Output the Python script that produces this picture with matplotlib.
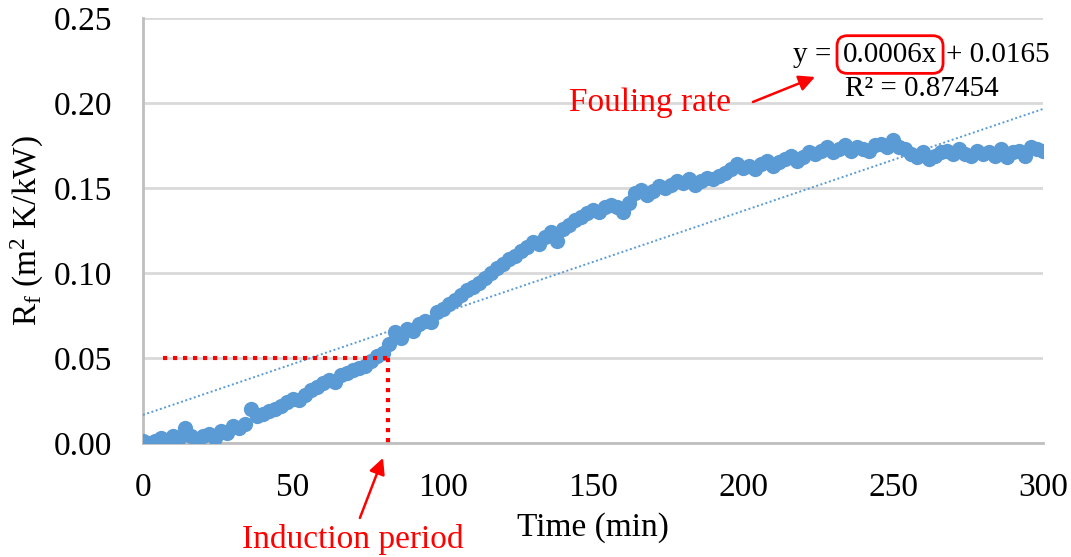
import numpy as np
import matplotlib
matplotlib.use("Agg")
import matplotlib.pyplot as plt

plt.rcParams['font.family'] = ['Liberation Serif', 'DejaVu Serif']
plt.rcParams['mathtext.fontset'] = 'custom'
plt.rcParams['mathtext.rm'] = 'Liberation Serif'
plt.rcParams['mathtext.it'] = 'Liberation Serif:italic'

# fouling resistance, every 2 min
time_min = np.arange(0, 301, 2)
rf = [
    0.001, 0.000, 0.001, 0.003, 0.002, 0.004, 0.003, 0.009, 0.004, 0.002,
    0.004, 0.005, 0.003, 0.007, 0.006, 0.010, 0.009, 0.011, 0.020, 0.016,
    0.017, 0.019, 0.020, 0.022, 0.024, 0.026, 0.025, 0.028, 0.031, 0.033,
    0.035, 0.037, 0.036, 0.040, 0.041, 0.043, 0.044, 0.045, 0.048, 0.051,
    0.053, 0.058, 0.065, 0.062, 0.067, 0.066, 0.070, 0.072, 0.071, 0.077,
    0.079, 0.082, 0.084, 0.087, 0.090, 0.092, 0.094, 0.097, 0.100, 0.103,
    0.105, 0.108, 0.110, 0.113, 0.115, 0.118, 0.117, 0.121, 0.124, 0.119,
    0.126, 0.128, 0.131, 0.133, 0.135, 0.137, 0.136, 0.139, 0.140, 0.139,
    0.136, 0.141, 0.147, 0.149, 0.146, 0.148, 0.151, 0.150, 0.152, 0.154,
    0.153, 0.155, 0.152, 0.154, 0.156, 0.155, 0.157, 0.159, 0.161, 0.164,
    0.162, 0.163, 0.161, 0.164, 0.166, 0.163, 0.165, 0.167, 0.169, 0.166,
    0.168, 0.171, 0.170, 0.172, 0.174, 0.171, 0.173, 0.175, 0.172, 0.174,
    0.173, 0.172, 0.175, 0.176, 0.174, 0.178, 0.174, 0.173, 0.170, 0.168,
    0.171, 0.167, 0.169, 0.171, 0.172, 0.170, 0.173, 0.170, 0.169, 0.172,
    0.170, 0.171, 0.169, 0.173, 0.168, 0.171, 0.172, 0.169, 0.174, 0.173,
    0.172,
]

# linear trendline as reported on the chart
slope = 0.0006
intercept = 0.0165
r2 = 0.87454

# induction period marker
induction_t = 81.7
induction_rf = 0.05

blue = '#5B9BD5'

fig = plt.figure(figsize=(10.71, 5.57), dpi=100)
ax = fig.add_axes([0.1335, 0.2047, 0.8404, 0.763])

ax.plot(time_min, rf, 'o', color=blue, ms=11, mec='none', zorder=3)

xt = np.array([0, 300])
ax.plot(xt, slope * xt + intercept, color=blue, lw=1.4, ls=(0, (1, 1.3)), zorder=4)

# red dotted guide lines
ax.plot([6.7, induction_t], [induction_rf, induction_rf], color='red', lw=3,
        ls=(0, (1, 1.4)), zorder=5, solid_capstyle='butt')
ax.plot([induction_t, induction_t], [induction_rf, 0.0], color='red', lw=3,
        ls=(0, (1, 1.4)), zorder=5, clip_on=False)

ax.set_xlim(0, 300)
ax.set_ylim(0, 0.25)
ax.set_xticks([0, 50, 100, 150, 200, 250, 300])
ax.set_yticks([0, 0.05, 0.10, 0.15, 0.20, 0.25])
ax.set_yticklabels(['0.00', '0.05', '0.10', '0.15', '0.20', '0.25'])
ax.tick_params(length=0, labelsize=24)
ax.tick_params(axis='y', pad=22)
ax.tick_params(axis='x', pad=21)
ax.grid(axis='y', color='#D9D9D9', lw=2)
ax.set_axisbelow(True)
for s in ['top', 'right']:
    ax.spines[s].set_visible(False)
ax.spines['left'].set_color('#BFBFBF')
ax.spines['bottom'].set_color('#BFBFBF')
ax.spines['left'].set_linewidth(2)
ax.spines['bottom'].set_linewidth(2)

ax.set_xlabel('Time (min)', fontsize=24, labelpad=7)
ax.set_ylabel(r'R$_\mathrm{f}$ (m$^2$ K/kW)', fontsize=24, labelpad=6)

# trendline equation, with the slope boxed
eq_y = 0.2285
ax.text(249, eq_y, '0.0006x', fontsize=21, ha='center', va='center',
        bbox=dict(boxstyle='round,pad=0.2,rounding_size=0.35', fc='none', ec='red', lw=2))
ax.text(229.5, eq_y, 'y =', fontsize=21, ha='right', va='center')
ax.text(267.5, eq_y, '+ 0.0165', fontsize=21, ha='left', va='center')
ax.text(259.5, 0.208, 'R² = %.5f' % r2, fontsize=21, ha='center', va='center')

ax.text(169, 0.2, 'Fouling rate', fontsize=24, color='red', ha='center', va='center')
ax.annotate('', xy=(224, 0.2153), xytext=(203.3, 0.2006),
            arrowprops=dict(arrowstyle='-|>', color='red', lw=1.8,
                            mutation_scale=24, shrinkA=0, shrinkB=0))

ax.text(70, -0.057, 'Induction period', fontsize=24, color='red',
        ha='center', va='center')
ax.annotate('', xy=(80, -0.0088), xytext=(72.3, -0.0441),
            annotation_clip=False,
            arrowprops=dict(arrowstyle='-|>', color='red', lw=1.8,
                            mutation_scale=24, shrinkA=0, shrinkB=0))

fig.savefig('out.png', dpi=100)
